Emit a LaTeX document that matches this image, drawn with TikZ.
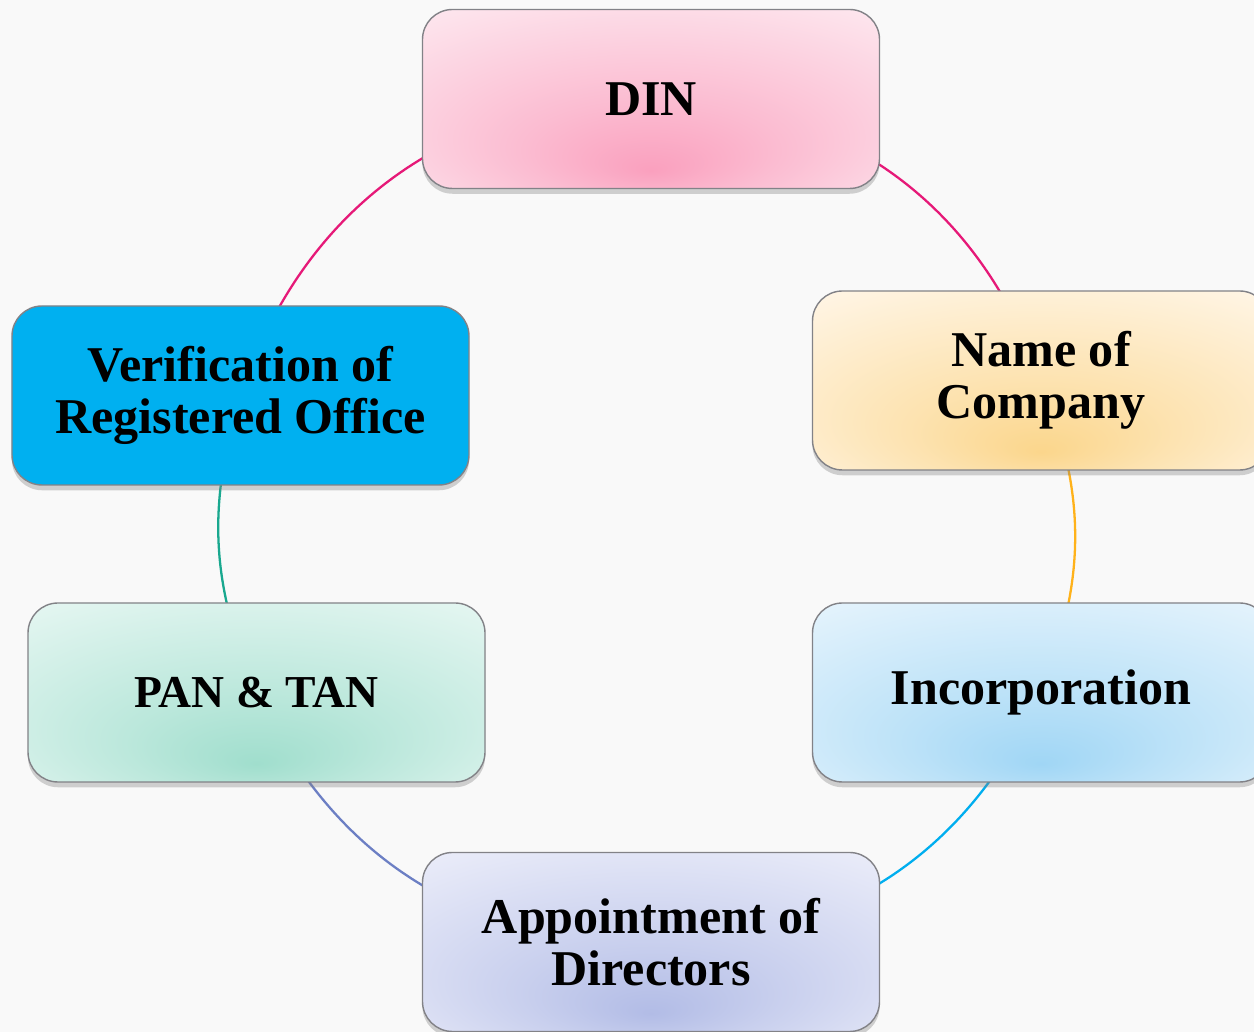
\documentclass[tikz,border=0pt]{standalone}
\usepackage{fontspec}
\setmainfont{Liberation Serif}
\usetikzlibrary{shadows,backgrounds}
\definecolor{pinkline}{RGB}{230,25,120}
\definecolor{orangeline}{RGB}{255,178,26}
\definecolor{cyanline}{RGB}{0,174,239}
\definecolor{slateline}{RGB}{108,127,196}
\definecolor{tealline}{RGB}{25,168,143}
\definecolor{verifblue}{RGB}{0,176,240}
\definecolor{boxedge}{RGB}{130,130,135}
\colorlet{glowin}{white}
\colorlet{glowout}{white}
\pgfdeclareradialshading[glowin,glowout]{boxglow}{\pgfpoint{0bp}{-20bp}}{color(0bp)=(glowin); color(14bp)=(glowin!60!glowout); color(38bp)=(glowout); color(50bp)=(glowout)}
\tikzset{glowfill/.style 2 args={/utils/exec={\colorlet{glowin}{#1}\colorlet{glowout}{#2}},shading=boxglow}}
\tikzstyle{regbox}=[rectangle,draw=boxedge,line width=0.8pt,rounded corners=0.6cm,minimum width=9.14cm,minimum height=3.58cm,align=center,font=\fontsize{28.5}{29.5}\selectfont\bfseries,drop shadow={shadow xshift=0pt,shadow yshift=-3pt,opacity=0.35}]
\tikzstyle{link}=[line width=1.3pt]

\begin{document}
\begin{tikzpicture}
    \useasboundingbox (0,0) rectangle (25.08,20.64);
    \clip (0,0) rectangle (25.08,20.64);
    \node [regbox,glowfill={rgb,255:red,250;green,160;blue,190}{rgb,255:red,253;green,230;blue,238}] (din) at (13.02,18.66) {DIN};
    \node [regbox,glowfill={rgb,255:red,251;green,214;blue,140}{rgb,255:red,255;green,245;blue,229}] (name) at (20.82,13.03) {Name of\\Company};
    \node [regbox,glowfill={rgb,255:red,160;green,214;blue,245}{rgb,255:red,228;green,243;blue,252}] (inc) at (20.82,6.79) {Incorporation};
    \node [regbox,glowfill={rgb,255:red,178;green,188;blue,230}{rgb,255:red,234;green,236;blue,249}] (appt) at (13.02,1.8) {Appointment of\\Directors};
    \node [regbox,glowfill={rgb,255:red,160;green,222;blue,205}{rgb,255:red,228;green,246;blue,241},font=\fontsize{26}{28}\selectfont\bfseries] (pan) at (5.13,6.79) {PAN \& TAN};
    \node [regbox,fill=verifblue] (verif) at (4.81,12.73) {Verification of\\Registered Office};
    \begin{scope}[on background layer]
      \fill [gray!5] (0,0) rectangle (25.08,20.64);
      \draw [link,pinkline] (din.center) to[bend left=35] (name.center);
      \draw [link,orangeline] (name.center) to[bend left=22] (inc.center);
      \draw [link,cyanline] (inc.center) to[bend left=33] (appt.center);
      \draw [link,slateline] (appt.center) to[bend left=33] (pan.center);
      \draw [link,tealline] (pan.center) to[bend left=20] (verif.center);
      \draw [link,pinkline] (verif.center) to[bend left=36] (din.center);
    \end{scope}
\end{tikzpicture}
\end{document}
